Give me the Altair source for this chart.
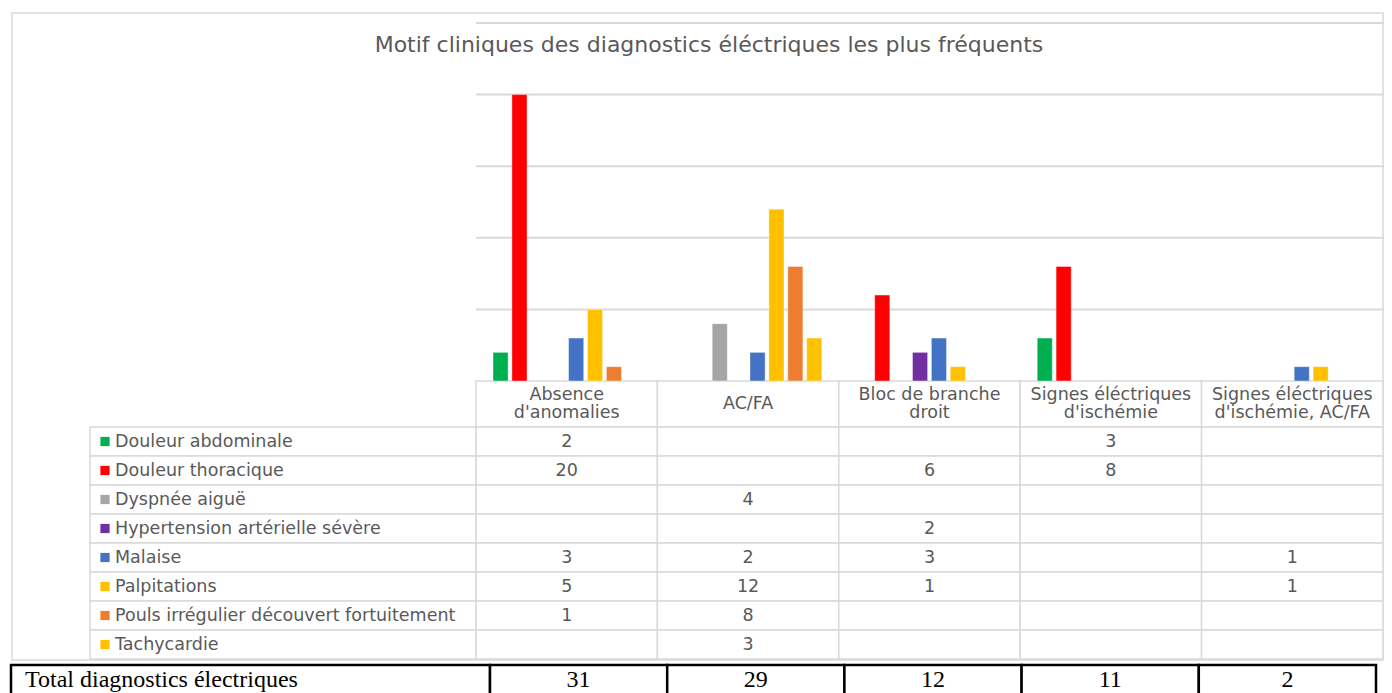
import altair as alt
import pandas as pd

title_text = "Motif cliniques des diagnostics éléctriques les plus fréquents"

categories = [
    "Absence\nd'anomalies",
    "AC/FA",
    "Bloc de branche\ndroit",
    "Signes éléctriques\nd'ischémie",
    "Signes éléctriques\nd'ischémie, AC/FA",
]

series = [
    "Douleur abdominale",
    "Douleur thoracique",
    "Dyspnée aiguë",
    "Hypertension artérielle sévère",
    "Malaise",
    "Palpitations",
    "Pouls irrégulier découvert fortuitement",
    "Tachycardie",
]

douleur_abdominale = [2, None, None, 3, None]
douleur_thoracique = [20, None, 6, 8, None]
dyspnee_aigue = [None, 4, None, None, None]
hypertension = [None, None, 2, None, None]
malaise = [3, 2, 3, None, 1]
palpitations = [5, 12, 1, None, 1]
pouls_irregulier = [1, 8, None, None, None]
tachycardie = [None, 3, None, None, None]

total_label = "Total diagnostics électriques"
totals = [31, 29, 12, 11, 2]

colors = ["#00B050", "#FF0000", "#A5A5A5", "#7030A0", "#4472C4", "#FFC000", "#ED7D31", "#FFC000"]
grid_ticks = [5, 10, 15, 20, 25]
y_domain = [0, 25]

series_values = [douleur_abdominale, douleur_thoracique, dyspnee_aigue, hypertension,
                 malaise, palpitations, pouls_irregulier, tachycardie]

rows = []
for s, vals in zip(series, series_values):
    for c, v in zip(categories, vals):
        rows.append({"series": s, "category": c, "value": v,
                     "label": "" if v is None else str(v)})
df = pd.DataFrame(rows)
df_bars = df.dropna(subset=["value"])
df_series = pd.DataFrame({"series": series})
df_cat = pd.DataFrame({"category": categories})

hdr_rows = []
for c in categories:
    parts = c.split("\n")
    n = len(parts)
    for i, p in enumerate(parts):
        hdr_rows.append({"category": c, "line": p, "pos": i - (n - 1) / 2})
df_hdr = pd.DataFrame(hdr_rows)

df_tot = pd.DataFrame({"category": categories, "total": [str(t) for t in totals]})
df_grid = pd.DataFrame({"tick": grid_ticks})
df_title = pd.DataFrame({"t": [title_text]})
df_tlabel = pd.DataFrame({"t": [total_label]})

GRAY_TXT = "#595959"
LINE = "#d9d9d9"
FONT = "DejaVu Sans"
FS = 17.5

X_CAT = alt.Scale(domain=categories, range=[468, 1375], paddingInner=0, paddingOuter=0)
X_COL = alt.Scale(domain=[0, len(categories)], range=[468, 1376])
Y_VAL = alt.Scale(domain=y_domain, range=[373, 15], nice=False)
Y_ROW = alt.Scale(domain=series, range=[419, 651], paddingInner=0, paddingOuter=0)
Y_HDR = alt.Scale(domain=[-0.5, 0.5], range=[387, 405])
X_TOT = alt.Scale(domain=categories, range=[482, 1368], paddingInner=0, paddingOuter=0)
COLOR = alt.Scale(domain=series, range=colors)

frame = alt.Chart(df_title).mark_rect(fill="white", stroke=LINE, strokeWidth=1.5).encode(
    x=alt.value(4), x2=alt.value(1375), y=alt.value(5), y2=alt.value(652))

title = alt.Chart(df_title).mark_text(font=FONT, fontSize=22, color=GRAY_TXT).encode(
    x=alt.value(701), y=alt.value(37), text="t:N")

grid = alt.Chart(df_grid).mark_rule(color=LINE, strokeWidth=2).encode(
    y=alt.Y("tick:Q", scale=Y_VAL, axis=None),
    x=alt.XDatum(0, type="quantitative", scale=X_COL, axis=None),
    x2=alt.X2Datum(len(categories)))

header_cells = alt.Chart(df_cat).mark_rect(fill="white", stroke=LINE, strokeWidth=1.5).encode(
    x=alt.X("category:N", scale=X_CAT, axis=None),
    y=alt.value(373), y2=alt.value(419))

label_cells = alt.Chart(df_series).mark_rect(fill="white", stroke=LINE, strokeWidth=1.5).encode(
    x=alt.value(82), x2=alt.value(468),
    y=alt.Y("series:N", scale=Y_ROW, axis=None))

cells = alt.Chart(df).mark_rect(fill="white", stroke=LINE, strokeWidth=1.5).encode(
    x=alt.X("category:N", scale=X_CAT, axis=None),
    y=alt.Y("series:N", scale=Y_ROW, axis=None))

header_text = alt.Chart(df_hdr).mark_text(font=FONT, fontSize=FS, color=GRAY_TXT,
                                          baseline="middle").encode(
    x=alt.X("category:N", scale=X_CAT, axis=None),
    y=alt.Y("pos:Q", scale=Y_HDR, axis=None), text="line:N")

legend_sq = alt.Chart(df_series).mark_square(size=85, opacity=1).encode(
    x=alt.value(97),
    y=alt.Y("series:N", scale=Y_ROW, axis=None),
    color=alt.Color("series:N", scale=COLOR, legend=None))

label_text = alt.Chart(df_series).mark_text(font=FONT, fontSize=FS, color=GRAY_TXT, align="left").encode(
    x=alt.value(107),
    y=alt.Y("series:N", scale=Y_ROW, axis=None),
    text="series:N")

cell_text = alt.Chart(df).mark_text(font=FONT, fontSize=FS, color=GRAY_TXT).encode(
    x=alt.X("category:N", scale=X_CAT, axis=None),
    y=alt.Y("series:N", scale=Y_ROW, axis=None),
    text="label:N")

bars = alt.Chart(df_bars).mark_bar(stroke="white", strokeOpacity=0.5, strokeWidth=0.8).encode(
    x=alt.X("category:N", scale=X_CAT, axis=None),
    xOffset=alt.XOffset("series:N", scale=alt.Scale(domain=series, paddingInner=0.2, paddingOuter=0.9)),
    y=alt.Y("value:Q", scale=Y_VAL, axis=None),
    color=alt.Color("series:N", scale=COLOR, legend=None))

tot_label_cell = alt.Chart(df_tlabel).mark_rect(fill="white", stroke="black", strokeWidth=2.5).encode(
    x=alt.value(3), x2=alt.value(482), y=alt.value(657), y2=alt.value(705))

tot_cells = alt.Chart(df_tot).mark_rect(fill="white", stroke="black", strokeWidth=2.5).encode(
    x=alt.X("category:N", scale=X_TOT, axis=None),
    y=alt.value(657), y2=alt.value(705))

tot_label_text = alt.Chart(df_tlabel).mark_text(font="Liberation Serif", fontSize=24, color="black",
                                                align="left", baseline="middle").encode(
    x=alt.value(17), y=alt.value(672), text="t:N")

tot_text = alt.Chart(df_tot).mark_text(font="Liberation Serif", fontSize=24, color="black",
                                       baseline="middle").encode(
    x=alt.X("category:N", scale=X_TOT, axis=None),
    y=alt.value(672), text="total:N")

chart = alt.layer(
    frame, title, grid, header_cells, label_cells, cells, header_text, legend_sq, label_text,
    cell_text, bars, tot_label_cell, tot_cells, tot_label_text, tot_text
).resolve_scale(x="independent", y="independent").properties(
    width=1376, height=685, padding=0, autosize=alt.AutoSizeParams(type="none")
).configure_view(stroke=None)

chart.save("out.html", embed_options={"renderer": "svg", "actions": False})
